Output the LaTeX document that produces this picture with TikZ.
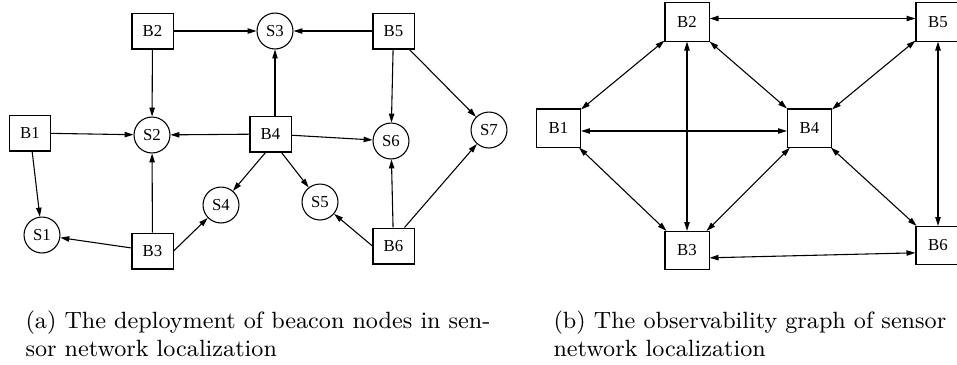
\documentclass[tikz,border=0pt]{standalone}
\usepackage{fontspec}
\newfontfamily\labelfont{Liberation Serif}
\usetikzlibrary{arrows.meta}
\begin{document}
\begin{tikzpicture}[x=0.37pt,y=-0.37pt,
  lbl/.style={font=\labelfont\fontsize{6.2}{7}\selectfont, inner sep=0pt},
  beacon/.style={lbl, draw, line width=0.4pt, minimum width=15.2pt, minimum height=13.3pt},
  beaconb/.style={beacon, minimum width=16.3pt, minimum height=14.1pt},
  sensor/.style={lbl, draw, circle, line width=0.4pt, minimum size=13.3pt},
  obs/.style={-{Triangle[length=3.3pt,width=2pt]}, line width=0.4pt},
  mutual/.style={{Triangle[length=3.3pt,width=2pt]}-{Triangle[length=3.3pt,width=2pt]}, line width=0.4pt},
  captext/.style={anchor=base west, inner sep=0pt, font=\fontsize{8.7}{10.5}\selectfont}
]
\useasboundingbox (0,0) rectangle (957,364);

% (a) beacons and sensors
\node[beacon] (B1) at (30,133) {B1};
\node[beacon] (B2) at (152.5,31) {B2};
\node[beacon] (B3) at (152.5,251) {B3};
\node[beacon] (B4) at (270.5,134) {B4};
\node[beacon] (B5) at (393.5,31) {B5};
\node[beacon] (B6) at (393.5,246) {B6};
\node[sensor] (S1) at (42,235) {S1};
\node[sensor] (S2) at (152,135) {S2};
\node[sensor] (S3) at (275,31) {S3};
\node[sensor] (S4) at (221,205) {S4};
\node[sensor] (S5) at (320,202) {S5};
\node[sensor] (S6) at (391,141) {S6};
\node[sensor] (S7) at (489,130) {S7};

\draw[obs] (B2) -- (S3);
\draw[obs] (B5) -- (S3);
\draw[obs] (B2) -- (S2);
\draw[obs] (B1) -- (S2);
\draw[obs] (B4) -- (S2);
\draw[obs] (B3) -- (S2);
\draw[obs] (S3.south |- B4.north) -- (S3);
\draw[obs] (B4) -- (S6);
\draw[obs] ([xshift=-1.85pt]B4.south) -- (S4);
\draw[obs] ([xshift=4.07pt]B4.south) -- (S5);
\draw[obs] (B1) -- (S1);
\draw[obs] (B3) -- (S1);
\draw[obs] (B3.east) -- (S4);
\draw[obs] (B5) -- (S6);
\draw[obs] ([xshift=5.92pt]B5.south) -- (S7);
\draw[obs] (B6) -- (S6);
\draw[obs] ([xshift=4.07pt]B6.north) -- (S7);
\draw[obs] (B6.west) -- (S5);

% (b) observability graph
\node[beaconb] (R1) at (558.5,128) {B1};
\node[beaconb] (R2) at (687,22) {B2};
\node[beaconb] (R3) at (687,250.5) {B3};
\node[beaconb] (R4) at (809.5,128) {B4};
\node[beaconb] (R5) at (938,22) {B5};
\node[beaconb] (R6) at (938,245.5) {B6};

\draw[mutual] ([yshift=1.3pt]R2.east) -- ([yshift=1.3pt]R5.west);
\draw[mutual] (R2) -- (R1);
\draw[mutual] (R2) -- (R3);
\draw[mutual] (R2) -- (R4);
\draw[mutual] (R5) -- (R4);
\draw[mutual] (R5) -- (R6);
\draw[mutual] ([yshift=-1.1pt]R1.east) -- ([yshift=-1.1pt]R4.west);
\draw[mutual] (R1) -- (R3);
\draw[mutual] (R4) -- (R3);
\draw[mutual] (R4) -- (R6);
\draw[mutual] ([yshift=-2.7pt]R3.east) -- ([yshift=-2.7pt]R6.west);

% captions
\node[captext] (capa1) at (25,328) {(a) The deployment of beacon nodes in sen-};
\node[captext] (capa2) at (25,356) {sor network localization};
\node[captext] (capb1) at (553,328) {(b) The observability graph of sensor};
\node[captext] (capb2) at (553,356) {network localization};
\end{tikzpicture}
\end{document}
